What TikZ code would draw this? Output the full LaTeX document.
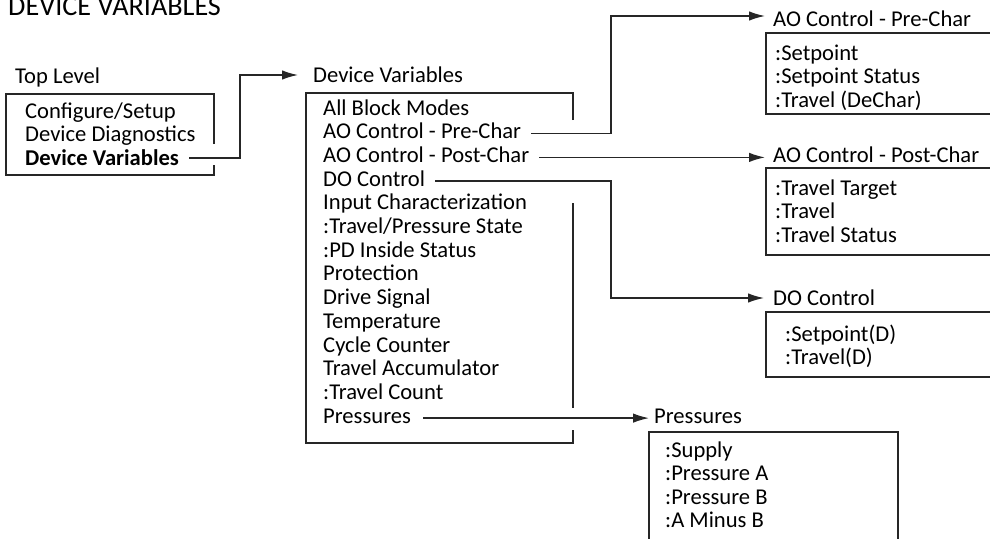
\documentclass[tikz,border=0pt]{standalone}
\usepackage{fontspec}
\setmainfont{Carlito}
\usetikzlibrary{arrows.meta,calc}
\begin{document}
\begin{tikzpicture}[x=1pt,y=-1pt,
  txt/.style={anchor=base west,inner sep=0pt,font=\fontsize{22.6}{27}\selectfont},
  txtb/.style={txt,font=\fontsize{22.6}{27}\selectfont\bfseries},
  ttl/.style={anchor=base west,inner sep=0pt,font=\fontsize{28.2}{30}\selectfont},
  frame/.style={line width=1.4pt,draw=black!85},
  conn/.style={line width=1.4pt,draw=black!85},
  arr/.style={conn,-{Latex[length=16pt,width=9.5pt]}}]
\useasboundingbox (0,0) rectangle (990,538);

% title
\node[ttl] (title) at (8,15) {DEVICE VARIABLES};

% top level
\node[txt] (tlhead) at (15,83) {Top Level};
\node[txt] (tl1) at (25,118) {Configure/Setup};
\node[txt] (tl2) at (25,141.5) {Device Diagnostics};
\node[txtb] (tl3) at (25,165) {Device Variables};
\draw[frame] (214,144) -- (214,94) -- (6,94) -- (6,175) -- (214,175) -- (214,165);

% device variables
\node[txt] (dvhead) at (313,82) {Device Variables};
\coordinate (dvtip) at ([xshift=-15pt,yshift=7pt]dvhead.base west);
\draw[arr] ([xshift=10pt,yshift=7pt]tl3.base east) -| ([xshift=-58pt]dvtip) -- (dvtip);

\foreach \t [count=\i] in {All Block Modes,AO Control - Pre-Char,AO Control - Post-Char,DO Control,Input Characterization,:Travel/Pressure State,:PD Inside Status,Protection,Drive Signal,Temperature,Cycle Counter,Travel Accumulator,:Travel Count,Pressures}
  \node[txt] (dv\i) at (323,{115+(\i-1)*23.7}) {\t};
\draw[frame] (573,120) -- (573,93) -- (306,93) -- (306,443) -- (573,443) -- (573,430);
\draw[frame] (573,203) -- (573,408);

% AO Control - Pre-Char
\node[txt] (aopre) at (773,26) {AO Control - Pre-Char};
\coordinate (aopretip) at ([xshift=-8pt,yshift=10pt]aopre.base west);
\draw[frame] (1000,33) -- (766,33) -- (766,114) -- (1000,114);
\node[txt] (ap1) at (775,60) {:Setpoint};
\node[txt] (ap2) at (775,83.5) {:Setpoint Status};
\node[txt] (ap3) at (775,107) {:Travel (DeChar)};
\draw[arr] ([xshift=10pt,yshift=5pt]dv2.base east) -| ([xshift=-154pt]aopretip) -- (aopretip);

% AO Control - Post-Char
\node[txt] (aopost) at (773,162) {AO Control - Post-Char};
\coordinate (aoposttip) at ([xshift=-8pt,yshift=6pt]aopost.base west);
\draw[frame] (1000,168) -- (766,168) -- (766,255) -- (1000,255);
\node[txt] (aq1) at (775,195) {:Travel Target};
\node[txt] (aq2) at (775,218.5) {:Travel};
\node[txt] (aq3) at (775,242) {:Travel Status};
\draw[arr] ([xshift=10pt,yshift=5pt]dv3.base east) coordinate (s3) -- (s3 -| aoposttip);

% DO Control
\node[txt] (dolab) at (773,305) {DO Control};
\coordinate (dotip) at ([xshift=-9pt,yshift=7pt]dolab.base west);
\draw[frame] (1000,312) -- (766,312) -- (766,377) -- (1000,377);
\node[txt] (do1) at (785,341) {:Setpoint(D)};
\node[txt] (do2) at (785,364) {:Travel(D)};
\draw[arr] ([xshift=10pt,yshift=5pt]dv4.base east) -| ([xshift=-153pt]dotip) -- (dotip);

% Pressures
\node[txt] (preslab) at (654,423) {Pressures};
\coordinate (prestip) at ([xshift=-5pt,yshift=5pt]preslab.base west);
\draw[frame] (649,545) -- (649,432) -- (898,432) -- (898,545);
\node[txt] (pr1) at (665,457) {:Supply};
\node[txt] (pr2) at (665,480.5) {:Pressure A};
\node[txt] (pr3) at (665,504) {:Pressure B};
\node[txt] (pr4) at (665,527) {:A Minus B};
\draw[arr] ([xshift=12pt,yshift=5pt]dv14.base east) coordinate (s14) -- (s14 -| prestip);
\end{tikzpicture}
\end{document}
